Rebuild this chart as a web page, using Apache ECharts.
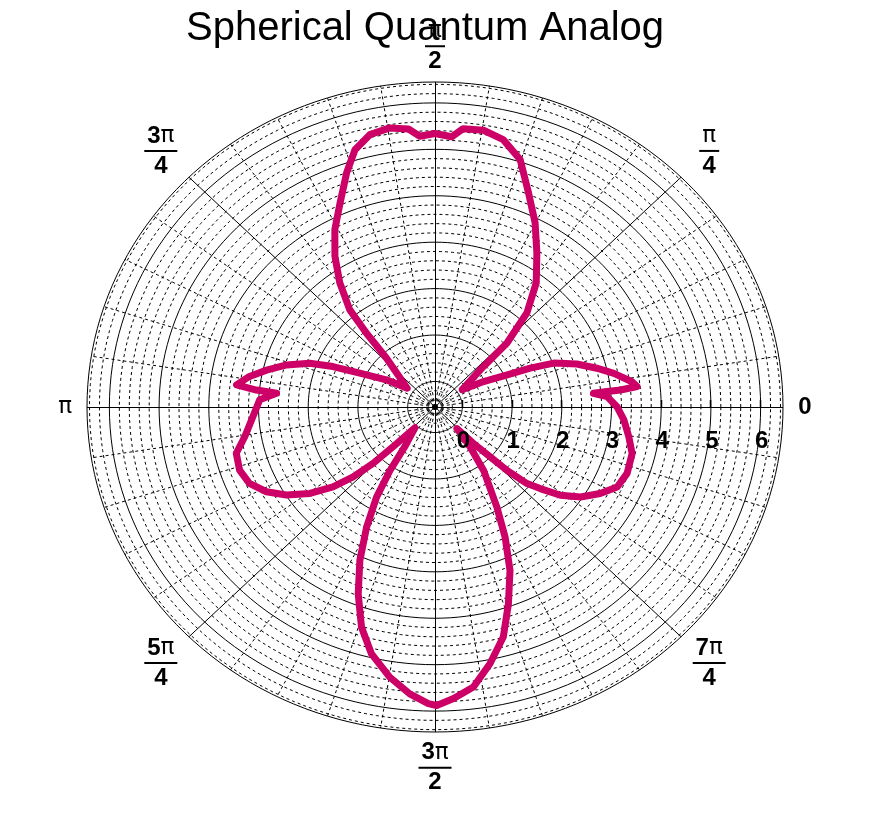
<!DOCTYPE html>
<html><head><meta charset="utf-8">
<script src="https://cdn.jsdelivr.net/npm/echarts@6/dist/echarts.min.js"></script>
<style>html,body{margin:0;padding:0;background:#fff}#c{width:871px;height:814px}</style>
</head><body><div id="c"></div>
<script>
// ---- data (polar: angle in degrees, radius in axis units) ----
const thetaDeg = [0.1, 3.7, 5.3, 5.5, 5.6, 6.2, 7.8, 11.4, 14.4, 18.0, 21.6, 23.6, 25.5, 29.3, 34.3, 41.8, 43.6, 47.6, 52.7, 58.3, 63.1, 67.8, 72.2, 76.6, 80.7, 84.6, 86.7, 90.0, 93.0, 95.1, 98.6, 102.6, 106.2, 109.4, 113.5, 117.8, 121.8, 125.6, 129.3, 130.9, 132.8, 144.1, 149.1, 154.3, 157.0, 159.5, 163.1, 166.8, 170.0, 173.2, 174.2, 174.7, 177.5, 183.3, 189.5, 194.0, 199.1, 203.8, 208.3, 212.4, 216.5, 220.0, 222.4, 224.3, 225.5, 228.0, 234.5, 236.5, 238.8, 242.0, 245.4, 249.0, 252.7, 256.5, 261.1, 265.3, 268.8, 270.3, 273.4, 277.3, 281.3, 285.5, 289.2, 293.2, 296.7, 300.0, 305.6, 309.4, 313.6, 314.6, 315.9, 316.7, 318.3, 320.3, 323.0, 326.5, 330.7, 334.8, 339.7, 345.8, 350.7, 355.8];
const radius = [3.11, 2.92, 2.65, 2.93, 3.20, 3.54, 3.45, 3.12, 2.81, 2.45, 2.02, 1.54, 1.06, 0.57, 0.11, 0.76, 1.45, 2.19, 2.81, 3.35, 3.90, 4.43, 5.05, 5.37, 5.49, 5.47, 5.28, 5.34, 5.29, 5.46, 5.53, 5.46, 5.22, 4.80, 4.24, 3.77, 3.27, 2.74, 2.16, 1.56, 0.89, 0.14, 0.59, 1.13, 1.68, 2.14, 2.57, 2.93, 3.24, 3.47, 3.06, 2.65, 2.98, 3.12, 3.33, 3.57, 3.61, 3.53, 3.30, 2.99, 2.58, 2.13, 1.68, 1.19, 0.60, 0.05, 0.48, 1.09, 1.72, 2.38, 3.08, 3.76, 4.42, 4.92, 5.34, 5.65, 5.84, 5.88, 5.74, 5.53, 5.09, 4.59, 3.94, 3.28, 2.59, 1.94, 1.13, 0.56, 0.09, 0.55, 1.00, 1.44, 1.93, 2.20, 2.61, 2.96, 3.26, 3.50, 3.57, 3.54, 3.40, 3.26];

const radialTickValues = [0, 1, 2, 3, 4, 5, 6];
const radialTickLabels = ['0', '1', '2', '3', '4', '5', '6'];
const angleLabelAngles = [0, 45, 90, 135, 180, 225, 270, 315];
const angleLabelNum = ['0', 'π', 'π', '3π', 'π', '5π', '3π', '7π'];
const angleLabelDen = ['', '4', '2', '4', '', '4', '2', '4'];
const chartTitle = 'Spherical Quantum Analog';

// polargram range
const R_MIN = -0.55, R_MAX = 6.45;
const RHO_MAX = R_MAX - R_MIN;

const rad = d => d * Math.PI / 180;
const toXY = (rho, deg) => [rho * Math.cos(rad(deg)), rho * Math.sin(rad(deg))];

// grid circles: majors solid, minors (every 0.2) dashed
const circles = [];
for (let k = -2; k <= 32; k++) {
  const r = k * 0.2;
  circles.push([r - R_MIN, k % 5 === 0 ? 1 : 0]);
}
circles.push([RHO_MAX, 1]);
// spokes every 9 degrees, solid at multiples of 45
const spokes = [];
for (let k = 0; k < 40; k++) spokes.push([k * 9, k % 5 === 0 ? 1 : 0]);

const curve = thetaDeg.map((t, i) => toXY(radius[i] - R_MIN, t));
curve.push(curve[0]);

const labelRho = a => (a % 180 === 0 ? 7.44 : (a % 90 === 0 ? 7.77 : 7.8));
const angleLabelData = angleLabelAngles.map((a, i) => {
  const num = angleLabelNum[i];
  const den = angleLabelDen[i];
  let txt = '';
  const digits = num.replace('π', '');
  if (digits) txt += '{b|' + digits + '}';
  if (num.indexOf('π') >= 0) txt += '{p|π}';
  if (den) txt += '\n{' + (digits ? 'bar2' : 'bar1') + '|}\n{b|' + den + '}';
  return { value: toXY(labelRho(a), a), label: { formatter: txt } };
});
const radialLabelData = radialTickValues.map((v, i) => ({
  value: [v - R_MIN, 0], label: { formatter: radialTickLabels[i] }
}));

const crisp = v => Math.round(v - 0.5) + 0.5;

const chart = echarts.init(document.getElementById('c'), null, { renderer: 'canvas' });
const richStyles = {
  b: { fontFamily: 'Liberation Sans', fontWeight: 'bold', fontSize: 24, color: '#000', lineHeight: 24, opacity: 1 },
  p: { fontFamily: 'DejaVu Sans', fontSize: 23, color: '#000', lineHeight: 24, opacity: 1 },
  bar1: { width: 20, height: 2, backgroundColor: '#000', lineHeight: 6 },
  bar2: { width: 33, height: 2, backgroundColor: '#000', lineHeight: 6 }
};

chart.setOption({
  animation: false,
  backgroundColor: '#fff',
  title: {
    text: chartTitle, left: 181, top: 4,
    textStyle: { fontFamily: 'Liberation Sans', fontWeight: 'normal', fontSize: 40, color: '#000' }
  },
  grid: { left: 87, top: 82, width: 696, height: 650 },
  xAxis: { type: 'value', min: -RHO_MAX, max: RHO_MAX, show: false },
  yAxis: { type: 'value', min: -RHO_MAX, max: RHO_MAX, show: false },
  series: [
    {
      type: 'custom', name: 'circles', silent: true, z: 1,
      data: circles,
      renderItem: (params, api) => {
        const rho = api.value(0), major = api.value(1);
        const pts = [];
        for (let a = 0; a <= 360; a += 2) pts.push(api.coord(toXY(rho, a)));
        return { type: 'polyline', shape: { points: pts },
          style: { stroke: '#000', fill: null, lineWidth: 1, lineDash: major ? null : [3, 3] } };
      }
    },
    {
      type: 'custom', name: 'spokes', silent: true, z: 1,
      data: spokes,
      renderItem: (params, api) => {
        const a = api.value(0), major = api.value(1);
        const p0 = api.coord([0, 0]);
        const p1 = api.coord(toXY(RHO_MAX, a));
        let x1 = p0[0], y1 = p0[1], x2 = p1[0], y2 = p1[1];
        if (a % 180 === 0) { y1 = y2 = crisp(y1); }
        if (a % 180 === 90) { x1 = x2 = crisp(x1); }
        return { type: 'line', shape: { x1: x1, y1: y1, x2: x2, y2: y2 },
          style: { stroke: '#000', lineWidth: 1, lineDash: major ? null : [3, 3] } };
      }
    },
    {
      type: 'custom', name: 'ticks', silent: true, z: 1,
      data: radialTickValues.map(v => [v - R_MIN, 0]),
      renderItem: (params, api) => {
        const p = api.coord([api.value(0), 0]);
        const x = crisp(p[0]);
        return { type: 'line', shape: { x1: x, y1: p[1] - 7, x2: x, y2: p[1] },
          style: { stroke: '#000', lineWidth: 1.5 } };
      }
    },
    {
      type: 'line', name: 'data', data: curve, showSymbol: false, clip: false, z: 5,
      lineStyle: { color: '#CC0066', width: 7, join: 'round', cap: 'round', opacity: 1 }
    },
    {
      type: 'scatter', name: 'rlabels', data: radialLabelData, symbolSize: 1, clip: false, z: 6,
      itemStyle: { color: 'rgba(0,0,0,0)', opacity: 1 }, silent: true,
      label: { show: true, position: 'inside', offset: [1, 34], opacity: 1,
        fontFamily: 'Liberation Sans', fontWeight: 'bold', fontSize: 24, color: '#000' }
    },
    {
      type: 'scatter', name: 'alabels', data: angleLabelData, symbolSize: 1, clip: false, z: 6,
      itemStyle: { color: 'rgba(0,0,0,0)', opacity: 1 }, silent: true,
      label: { show: true, position: 'inside', align: 'center', verticalAlign: 'middle', opacity: 1, color: '#000', rich: richStyles }
    }
  ]
});
</script>
</body></html>
